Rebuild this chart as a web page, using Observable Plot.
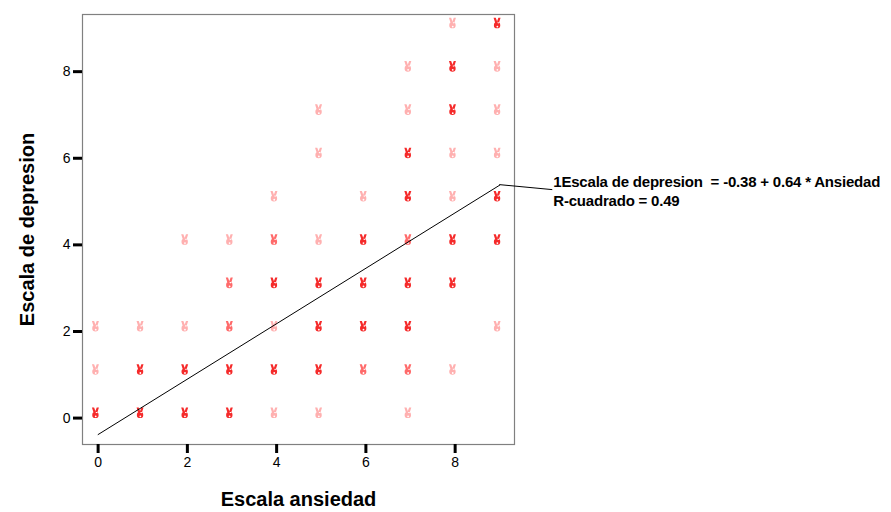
<!DOCTYPE html>
<html><head><meta charset="utf-8">
<script src="https://cdn.jsdelivr.net/npm/d3@7"></script>
<script src="https://cdn.jsdelivr.net/npm/@observablehq/plot@0.6"></script>
<style>
body{margin:0;background:#fff;}
svg text{font-family:"Liberation Sans",Arial,sans-serif;}
[aria-label="x-axis label"] text,[aria-label="y-axis label"] text{font-size:20px;font-weight:bold;fill:#000;}
</style></head><body><div id="chart"></div><script>
// Data (sunflower-style overlapping points; frecuencia = shade level)
const ansiedad  = [0,1,2,3,4,5,7,  0,1,2,3,4,5,6,7,8,  0,1,2,3,4,5,6,7,9,  3,4,5,6,7,8,  2,3,4,5,6,7,8,9,  4,6,7,8,9,  5,7,8,9,  5,7,8,9,  7,8,9,  8,9];
const depresion = [0,0,0,0,0,0,0,  1,1,1,1,1,1,1,1,1,  2,2,2,2,2,2,2,2,2,  3,3,3,3,3,3,  4,4,4,4,4,4,4,4,  5,5,5,5,5,  6,6,6,6,  7,7,7,7,  8,8,8,  9,9];
const frecuencia= [3,3,3,3,1,1,1,  1,3,3,3,3,3,2,2,1,  1,1,1,2,1,3,3,3,1,  2,3,3,3,3,3,  1,1,2,1,3,2,3,3,  1,1,3,1,3,  1,3,1,1,  1,1,3,1,  1,3,1,  1,3];
const xTicks = [0,2,4,6,8];
const yTicks = [0,2,4,6,8];
const intercepto = -0.38, pendiente = 0.64;
const ajusteX = [0, 9];
const etiquetaEcuacion = "1Escala de depresion  = -0.38 + 0.64 * Ansiedad";
const etiquetaR2 = "R-cuadrado = 0.49";

const puntos = ansiedad.map((a,i)=>({x:a, y:depresion[i], n:frecuencia[i]}));
const ajuste = ajusteX.map(x=>({x, y: intercepto + pendiente*x}));

// small "sunflower" glyph (two petals + head), drawn up-left of the point
const girasol = {
  draw(ctx) {
    ctx.moveTo(-6.2,-10.6); ctx.lineTo(-4.0,-10.6); ctx.lineTo(-2.2,-5.6); ctx.lineTo(-4.4,-4.8); ctx.closePath();
    ctx.moveTo(0.8,-10.6); ctx.lineTo(-1.4,-10.6); ctx.lineTo(-3.2,-5.6); ctx.lineTo(-1.0,-4.8); ctx.closePath();
    ctx.moveTo(0.5,-3.2); ctx.arc(-2.7,-3.2,3.2,0,2*Math.PI); ctx.closePath();
  }
};

const chart = Plot.plot({
  width: 891, height: 512,
  marginLeft: 82, marginTop: 14, marginRight: 377, marginBottom: 68,
  style: {fontFamily: '"Liberation Sans",Arial,sans-serif', fontSize: "14px", color: "#000", background: "#fff"},
  x: {domain: [-0.35, 9.33]},
  y: {domain: [-0.61, 9.32]},
  color: {type: "ordinal", domain: [1,2,3], range: ["#ffb0b0","#ff6a6a","#f52a2a"]},
  marks: [
    Plot.frame({stroke: "#808080", strokeWidth: 1.2}),
    Plot.axisX({ticks: xTicks, tickSize: 9, strokeWidth: 3, tickPadding: 4, stroke: "#000",
      label: "Escala ansiedad", labelAnchor: "center", labelOffset: 61, labelArrow: "none"}),
    Plot.axisY({ticks: yTicks, tickSize: 9, strokeWidth: 3, tickPadding: 3, stroke: "#000",
      label: "Escala de depresion", labelAnchor: "center", labelOffset: 63, labelArrow: "none"}),
    Plot.dot(puntos, {x: "x", y: "y", symbol: girasol, fill: d => d.n, stroke: "none", r: 4}),
    Plot.dot(puntos, {x: "x", y: "y", fill: "#fff", stroke: "none", r: 0.9, dx: -2.4, dy: -1.8}),
    Plot.line(ajuste, {x: "x", y: "y", stroke: "#000", strokeWidth: 1}),
    (index, {x, y}) => {
      const g = d3.create("svg:g").attr("text-anchor", "start");
      const x0 = x(ajusteX[1]), y0 = y(intercepto + pendiente*ajusteX[1]);
      const x1 = x0 + 53, y1 = y0 + 5;
      g.append("path").attr("d", `M${x0},${y0}L${x1},${y1}`).attr("stroke", "#000").attr("fill", "none");
      g.append("text").attr("x", x1 + 1).attr("y", y1 - 3).attr("font-size", 15).attr("font-weight", "bold")
        .attr("letter-spacing", -0.2).attr("text-anchor", "start").attr("fill", "#000").style("white-space", "pre").text(etiquetaEcuacion);
      g.append("text").attr("x", x1 + 1).attr("y", y1 + 16).attr("font-size", 15).attr("font-weight", "bold")
        .attr("letter-spacing", -0.2).attr("text-anchor", "start").attr("fill", "#000").text(etiquetaR2);
      return g.node();
    }
  ]
});
document.getElementById("chart").appendChild(chart);
</script></body></html>
